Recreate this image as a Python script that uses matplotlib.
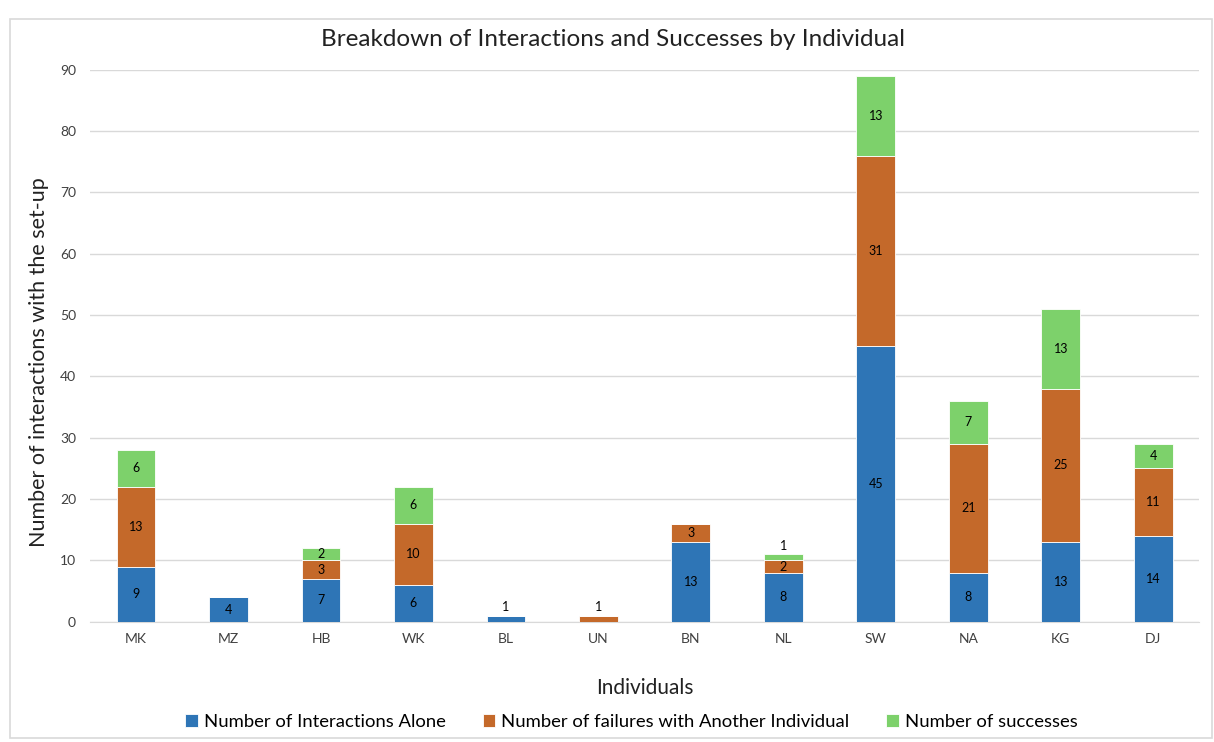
import matplotlib
matplotlib.use("Agg")
import matplotlib.pyplot as plt
from matplotlib.patches import Rectangle
import numpy as np

categories = ["MK", "MZ", "HB", "WK", "BL", "UN", "BN", "NL", "SW", "NA", "KG", "DJ"]
alone = [9, 4, 7, 6, 1, 0, 13, 8, 45, 8, 13, 14]
failures = [13, 0, 3, 10, 0, 1, 3, 2, 31, 21, 25, 11]
successes = [6, 0, 2, 6, 0, 0, 0, 1, 13, 7, 13, 4]

series_names = ["Number of Interactions Alone",
                "Number of failures with Another Individual",
                "Number of successes"]
colors = ["#2E75B6", "#C4692A", "#7DD16B"]

plt.rcParams['font.family'] = ['Lato', 'DejaVu Sans']

fig = plt.figure(figsize=(12.14, 7.42), dpi=100)
fig.patches.append(Rectangle((0.008, 0.005), 0.99, 0.97, transform=fig.transFigure,
                             fill=False, edgecolor="#D9D9D9", linewidth=1.2))
ax = fig.add_axes([0.074, 0.162, 0.914, 0.744])

x = np.arange(len(categories))
bottom = np.zeros(len(categories))
width = 0.42
for vals, name, col in zip([alone, failures, successes], series_names, colors):
    vals = np.array(vals, dtype=float)
    ax.bar(x, vals, width, bottom=bottom, color=col, edgecolor="white",
           linewidth=0.6, label=name, zorder=3)
    for xi, v, b in zip(x, vals, bottom):
        if v <= 0:
            continue
        if v < 1.5:
            ax.text(xi, b + v + 0.4, f"{int(v)}", ha="center", va="bottom",
                    fontsize=9, color="black", zorder=4)
        else:
            ax.text(xi, b + v / 2, f"{int(v)}", ha="center", va="center",
                    fontsize=9, color="black", zorder=4)
    bottom = bottom + vals

ax.set_xlim(-0.5, len(categories) - 0.5)
ax.set_ylim(0, 90)
ax.set_yticks(np.arange(0, 91, 10))
ax.set_xticks(x)
ax.set_xticklabels(categories)
ax.tick_params(axis="both", length=0, labelsize=10, colors="#404040")
ax.tick_params(axis="x", pad=8)
ax.tick_params(axis="y", pad=10)
ax.grid(axis="y", color="#D9D9D9", linewidth=1, zorder=0)
for s in ["top", "right", "left"]:
    ax.spines[s].set_visible(False)
ax.spines["bottom"].set_color("#D9D9D9")
ax.spines["bottom"].set_zorder(1)

fig.text(0.505, 0.947, "Breakdown of Interactions and Successes by Individual",
         fontsize=17.5, color="#222222", ha="center", va="center")
ax.set_xlabel("Individuals", fontsize=15, color="#222222", labelpad=24)
ax.set_ylabel("Number of interactions with the set-up", fontsize=15.5,
              color="#222222")
ax.yaxis.set_label_coords(-0.037, 0.47)

leg = fig.legend(loc="lower center", bbox_to_anchor=(0.52, -0.006), ncol=3,
                 frameon=False, fontsize=13.3, handlelength=0.7, handleheight=0.7,
                 handletextpad=0.3, columnspacing=2.0)

fig.savefig("out.png", dpi=100)
